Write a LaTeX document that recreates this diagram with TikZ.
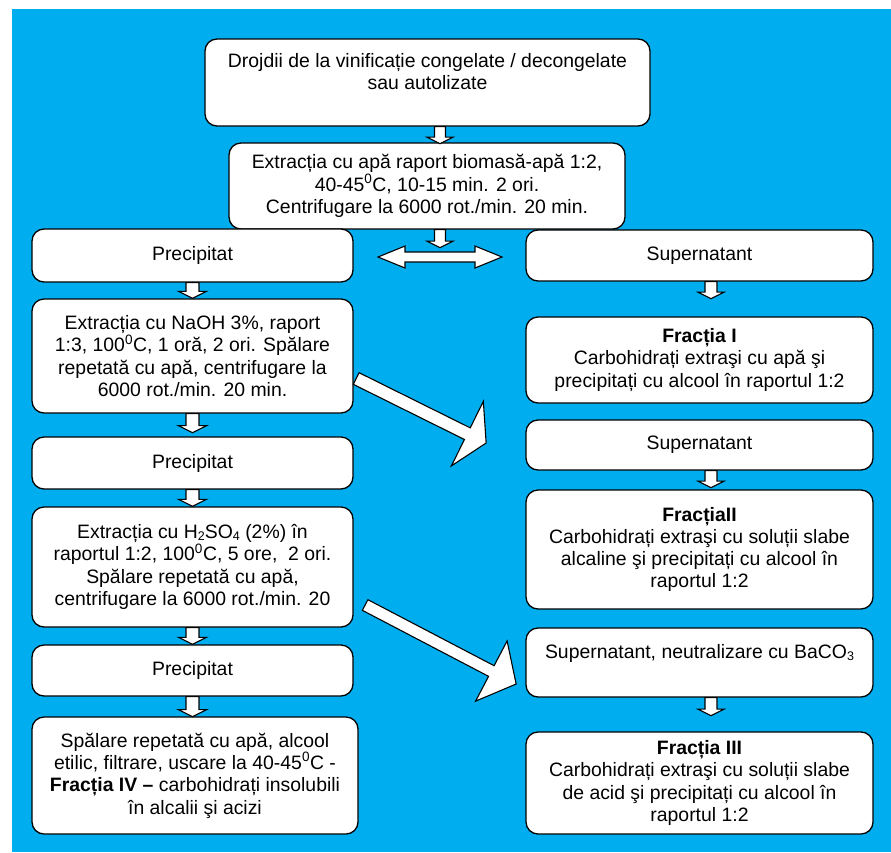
\documentclass[tikz,border=0pt]{standalone}
\usepackage{fontspec}
\setmainfont{Liberation Sans}
\usetikzlibrary{calc}
\definecolor{skyblue}{RGB}{0,174,239}
\tikzset{
  procbox/.style={ draw, fill=white, rounded corners=12pt, line width=1.3pt, align=center, inner sep=0pt }
}
\tikzset{
  fatarr/.style={ draw, fill=white, line width=1.1pt, line join=miter }
}
\newcommand{\chemsub}[1]{\raisebox{-0.2ex}{\fontsize{12.5}{12.5}\selectfont #1}}
% block arrow: from, to, half shaft, half head, head length
\newcommand{\fatarrow}[5]{%
  \draw[fatarr] let \p1=(#1), \p2=(#2), \n1={atan2(\y2-\y1,\x2-\x1)}, \n2={veclen(\x2-\x1,\y2-\y1)-#5pt} in
    ($(\p1)+(\n1+90:#3pt)$) -- ($(\p1)+(\n1:\n2)+(\n1+90:#3pt)$) -- ($(\p1)+(\n1:\n2)+(\n1+90:#4pt)$) -- (\p2)
    -- ($(\p1)+(\n1:\n2)+(\n1-90:#4pt)$) -- ($(\p1)+(\n1:\n2)+(\n1-90:#3pt)$) -- ($(\p1)+(\n1-90:#3pt)$) -- cycle;
}
\newcommand{\dblarrow}[5]{%
  \draw[fatarr] let \p1=(#1), \p2=(#2), \n1={atan2(\y2-\y1,\x2-\x1)}, \n2={veclen(\x2-\x1,\y2-\y1)-#5pt} in
    (\p1) -- ($(\p1)+(\n1:#5pt)+(\n1+90:#4pt)$) -- ($(\p1)+(\n1:#5pt)+(\n1+90:#3pt)$)
    -- ($(\p1)+(\n1:\n2)+(\n1+90:#3pt)$) -- ($(\p1)+(\n1:\n2)+(\n1+90:#4pt)$) -- (\p2)
    -- ($(\p1)+(\n1:\n2)+(\n1-90:#4pt)$) -- ($(\p1)+(\n1:\n2)+(\n1-90:#3pt)$)
    -- ($(\p1)+(\n1:#5pt)+(\n1-90:#3pt)$) -- ($(\p1)+(\n1:#5pt)+(\n1-90:#4pt)$) -- cycle;
}

\begin{document}
\begin{tikzpicture}[x=1pt, y=-1pt, font=\fontsize{19.4}{22.3}\selectfont]
  \useasboundingbox (0,0) rectangle (891,852);
  \fill[white] (0,0) rectangle (891,852);
  \fill[skyblue] (12,9) rectangle (891,852);

  \node[procbox, minimum width=445pt, minimum height=87pt] (start) at (427.5,82.5)
    {Drojdii de la vinificație congelate / decongelate\\ sau autolizate\\ \mbox{}};
  \node[procbox, minimum width=396pt, minimum height=86pt] (extr) at (427,186)
    {Extracția cu apă raport biomasă-apă 1:2,\\ 40-45\textsuperscript{0}C, 10-15 min. 2 ori.\\ Centrifugare la 6000 rot./min. 20 min.};

  % left column
  \node[procbox, minimum width=321pt, minimum height=53pt] (prec1) at (192.5,255.5) {Precipitat};
  \node[procbox, minimum width=321pt, minimum height=114pt] (naoh) at (192.5,356)
    {Extracția cu NaOH 3\%, raport\\ 1:3, 100\textsuperscript{0}C, 1 oră, 2 ori. Spălare\\ repetată cu apă, centrifugare la\\ 6000 rot./min. 20 min.};
  \node[procbox, minimum width=321pt, minimum height=52pt] (prec2) at (192.5,463) {Precipitat};
  \node[procbox, minimum width=321pt, minimum height=120pt] (acid) at (192.5,567)
    {Extracția cu H\chemsub{2}SO\chemsub{4} (2\%) în\\ raportul 1:2, 100\textsuperscript{0}C, 5 ore,\ \ 2 ori.\\ Spălare repetată cu apă,\\ centrifugare la 6000 rot./min. 20};
  \node[procbox, minimum width=321pt, minimum height=51pt] (prec3) at (192.5,670.5) {Precipitat};
  \node[procbox, minimum width=326pt, minimum height=117pt] (wash) at (195,775.5)
    {Spălare repetată cu apă, alcool\\ etilic, filtrare, uscare la 40-45\textsuperscript{0}C -\\ \textbf{Fracția IV –} carbohidrați insolubili\\ în alcalii şi acizi};

  % right column
  \node[procbox, minimum width=347pt, minimum height=51pt] (sup1) at (699.5,255.5) {Supernatant};
  \node[procbox, minimum width=347pt, minimum height=86pt] (frI) at (699.5,360)
    {\textbf{Fracția I}\\ Carbohidrați extraşi cu apă şi\\ precipitați cu alcool în raportul 1:2};
  \node[procbox, minimum width=347pt, minimum height=50pt] (sup2) at (699.5,445) {Supernatant};
  \node[procbox, minimum width=347pt, minimum height=119pt] (frII) at (699.5,549.5)
    {\textbf{FracțiaII}\\ Carbohidrați extraşi cu soluții slabe\\ alcaline şi precipitați cu alcool în\\ raportul 1:2};
  \node[procbox, minimum width=347pt, minimum height=69pt] (sup3) at (699.5,662.5)
    {Supernatant, neutralizare cu BaCO\chemsub{3}\\ \mbox{}};
  \node[procbox, minimum width=347pt, minimum height=102pt] (frIII) at (699.5,783)
    {\textbf{Fracția III}\\ Carbohidrați extraşi cu soluții slabe\\ de acid şi precipitați cu alcool în\\ raportul 1:2};

  \fatarrow{$(start.south)+(12.5,0)$}{$(start.south)+(12.5,17)$}{5.5}{13}{6.5}
  \fatarrow{$(extr.south)+(13,0)$}{$(extr.south)+(13,18)$}{5.5}{13}{6.5}
  \coordinate (dblL) at (378,257);
  \coordinate (dblR) at (502,257);
  \dblarrow{dblL}{dblR}{5}{11}{27}

  \fatarrow{prec1.south}{naoh.north}{6.5}{14}{7}
  \fatarrow{naoh.south}{$(naoh.south)+(0,19)$}{6.5}{14}{7}
  \fatarrow{prec2.south}{acid.north}{6.5}{14}{7}
  \fatarrow{acid.south}{prec3.north}{6.5}{14}{7}
  \fatarrow{prec3.south}{$(prec3.south)+(0,20)$}{6.5}{14}{7}

  \fatarrow{$(sup1.south)+(11.5,0)$}{$(sup1.south)+(11.5,17)$}{6}{13}{6.5}
  \fatarrow{$(sup2.south)+(11.5,0)$}{$(sup2.south)+(11.5,17)$}{6}{13}{6.5}
  \fatarrow{$(sup3.south)+(11.5,0)$}{$(sup3.south)+(11.5,18)$}{6}{13}{6.5}

  \fatarrow{$(naoh.east)+(2.5,22.5)$}{$(naoh.east)+(132.5,87)$}{6.5}{36}{21}
  \fatarrow{$(acid.east)+(11.5,38)$}{$(acid.east)+(162.5,117)$}{6}{34}{28}
\end{tikzpicture}
\end{document}
